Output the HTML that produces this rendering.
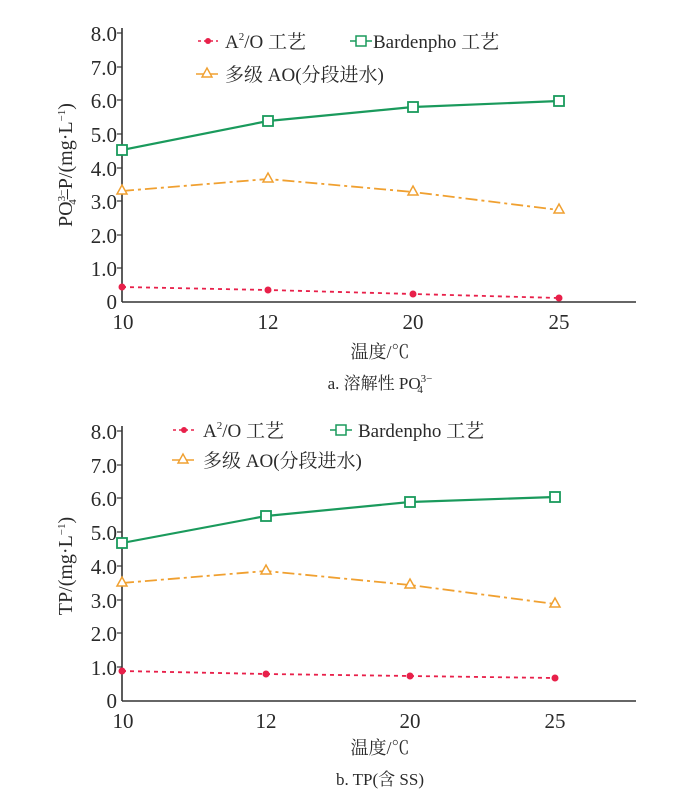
<!DOCTYPE html>
<html><head><meta charset="utf-8"><style>
html,body{margin:0;padding:0;background:#fff;}
svg text{font-family:"Liberation Serif","Noto Serif CJK SC",serif;fill:#2a2a2a;}
</style></head><body>
<svg width="679" height="801" viewBox="0 0 679 801" xmlns="http://www.w3.org/2000/svg">
<!-- Chart a -->
<g>
<line x1="122" y1="28" x2="122" y2="302" stroke="#333" stroke-width="1.6"/>
<line x1="122" y1="302" x2="636" y2="302" stroke="#333" stroke-width="1.6"/>
<g stroke="#333" stroke-width="1.2">
<line x1="117" y1="33" x2="122" y2="33"/><line x1="117" y1="67" x2="122" y2="67"/><line x1="117" y1="100" x2="122" y2="100"/><line x1="117" y1="134" x2="122" y2="134"/><line x1="117" y1="168" x2="122" y2="168"/><line x1="117" y1="201" x2="122" y2="201"/><line x1="117" y1="235" x2="122" y2="235"/><line x1="117" y1="268" x2="122" y2="268"/>
</g>
<g font-size="21" text-anchor="end">
<text x="117" y="41">8.0</text><text x="117" y="75">7.0</text><text x="117" y="108">6.0</text><text x="117" y="142">5.0</text><text x="117" y="176">4.0</text><text x="117" y="209">3.0</text><text x="117" y="243">2.0</text><text x="117" y="276">1.0</text><text x="117" y="309">0</text>
</g>
<g font-size="21" text-anchor="middle">
<text x="123" y="329">10</text><text x="268" y="329">12</text><text x="413" y="329">20</text><text x="559" y="329">25</text>
</g>
<text x="380" y="358" font-size="18" text-anchor="middle">温度/℃</text>
<text x="380" y="389" font-size="17" text-anchor="middle">a. 溶解性 PO<tspan font-size="11" dy="-7">3−</tspan><tspan font-size="11" dx="-15" dy="11">4</tspan></text>
<text transform="translate(72,165) rotate(-90)" font-size="20" text-anchor="middle">PO<tspan font-size="11" dy="-7">3−</tspan><tspan font-size="11" dx="-15" dy="11">4</tspan><tspan dy="-4">–P/(mg·L</tspan><tspan font-size="11" dy="-7">−1</tspan><tspan dy="7">)</tspan></text>
<polyline points="122,287 268,290 413,294 559,298" fill="none" stroke="#e8204a" stroke-width="1.8" stroke-dasharray="4,4"/>
<g fill="#e8204a"><circle cx="122" cy="287" r="3.5"/><circle cx="268" cy="290" r="3.5"/><circle cx="413" cy="294" r="3.5"/><circle cx="559" cy="298" r="3.5"/></g>
<polyline points="122,150 268,121 413,107 559,101" fill="none" stroke="#1a9a5c" stroke-width="2.2"/>
<g fill="#fff" stroke="#1a9a5c" stroke-width="1.8"><rect x="117" y="145" width="10" height="10"/><rect x="263" y="116" width="10" height="10"/><rect x="408" y="102" width="10" height="10"/><rect x="554" y="96" width="10" height="10"/></g>
<polyline points="122,191 268,179 413,192 559,210" fill="none" stroke="#f0a030" stroke-width="1.8" stroke-dasharray="12,4,3,4"/>
<g fill="#fff" stroke="#f0a030" stroke-width="1.5"><path d="M122,185 l5,9 h-10z"/><path d="M268,173 l5,9 h-10z"/><path d="M413,186 l5,9 h-10z"/><path d="M559,204 l5,9 h-10z"/></g>
<line x1="198" y1="41" x2="218" y2="41" stroke="#e8204a" stroke-width="1.6" stroke-dasharray="3,3"/><circle cx="208" cy="41" r="3" fill="#e8204a"/>
<text x="225" y="48" font-size="19">A<tspan font-size="11" dy="-8">2</tspan><tspan dy="8">/O 工艺</tspan></text>
<line x1="350" y1="41" x2="372" y2="41" stroke="#1a9a5c" stroke-width="1.6"/><rect x="356" y="36" width="10" height="10" fill="#fff" stroke="#1a9a5c" stroke-width="1.5"/>
<text x="373" y="48" font-size="19">Bardenpho 工艺</text>
<line x1="196" y1="74" x2="218" y2="74" stroke="#f0a030" stroke-width="1.6"/><path d="M207,68 l5,9 h-10z" fill="#fff" stroke="#f0a030" stroke-width="1.4"/>
<text x="225" y="81" font-size="19">多级 AO(分段进水)</text>
</g>
<!-- Chart b -->
<g>
<line x1="122" y1="426" x2="122" y2="701" stroke="#333" stroke-width="1.6"/>
<line x1="122" y1="701" x2="636" y2="701" stroke="#333" stroke-width="1.6"/>
<g stroke="#333" stroke-width="1.2">
<line x1="117" y1="431" x2="122" y2="431"/><line x1="117" y1="465" x2="122" y2="465"/><line x1="117" y1="498" x2="122" y2="498"/><line x1="117" y1="532" x2="122" y2="532"/><line x1="117" y1="566" x2="122" y2="566"/><line x1="117" y1="600" x2="122" y2="600"/><line x1="117" y1="633" x2="122" y2="633"/><line x1="117" y1="667" x2="122" y2="667"/>
</g>
<g font-size="21" text-anchor="end">
<text x="117" y="439">8.0</text><text x="117" y="473">7.0</text><text x="117" y="506">6.0</text><text x="117" y="540">5.0</text><text x="117" y="574">4.0</text><text x="117" y="608">3.0</text><text x="117" y="641">2.0</text><text x="117" y="675">1.0</text><text x="117" y="708">0</text>
</g>
<g font-size="21" text-anchor="middle">
<text x="123" y="728">10</text><text x="266" y="728">12</text><text x="410" y="728">20</text><text x="555" y="728">25</text>
</g>
<text x="380" y="754" font-size="18" text-anchor="middle">温度/℃</text>
<text x="380" y="785" font-size="17" text-anchor="middle">b. TP(含 SS)</text>
<text transform="translate(72,566) rotate(-90)" font-size="20" text-anchor="middle">TP/(mg·L<tspan font-size="11" dy="-7">−1</tspan><tspan dy="7">)</tspan></text>
<polyline points="122,671 266,674 410,676 555,678" fill="none" stroke="#e8204a" stroke-width="1.8" stroke-dasharray="4,4"/>
<g fill="#e8204a"><circle cx="122" cy="671" r="3.5"/><circle cx="266" cy="674" r="3.5"/><circle cx="410" cy="676" r="3.5"/><circle cx="555" cy="678" r="3.5"/></g>
<polyline points="122,543 266,516 410,502 555,497" fill="none" stroke="#1a9a5c" stroke-width="2.2"/>
<g fill="#fff" stroke="#1a9a5c" stroke-width="1.8"><rect x="117" y="538" width="10" height="10"/><rect x="261" y="511" width="10" height="10"/><rect x="405" y="497" width="10" height="10"/><rect x="550" y="492" width="10" height="10"/></g>
<polyline points="122,583 266,571 410,585 555,604" fill="none" stroke="#f0a030" stroke-width="1.8" stroke-dasharray="12,4,3,4"/>
<g fill="#fff" stroke="#f0a030" stroke-width="1.5"><path d="M122,577 l5,9 h-10z"/><path d="M266,565 l5,9 h-10z"/><path d="M410,579 l5,9 h-10z"/><path d="M555,598 l5,9 h-10z"/></g>
<line x1="173" y1="430" x2="195" y2="430" stroke="#e8204a" stroke-width="1.6" stroke-dasharray="3,3"/><circle cx="184" cy="430" r="3" fill="#e8204a"/>
<text x="203" y="437" font-size="19">A<tspan font-size="11" dy="-8">2</tspan><tspan dy="8">/O 工艺</tspan></text>
<line x1="330" y1="430" x2="352" y2="430" stroke="#1a9a5c" stroke-width="1.6"/><rect x="336" y="425" width="10" height="10" fill="#fff" stroke="#1a9a5c" stroke-width="1.5"/>
<text x="358" y="437" font-size="19">Bardenpho 工艺</text>
<line x1="172" y1="460" x2="194" y2="460" stroke="#f0a030" stroke-width="1.6"/><path d="M183,454 l5,9 h-10z" fill="#fff" stroke="#f0a030" stroke-width="1.4"/>
<text x="203" y="467" font-size="19">多级 AO(分段进水)</text>
</g>
</svg>
</body></html>
